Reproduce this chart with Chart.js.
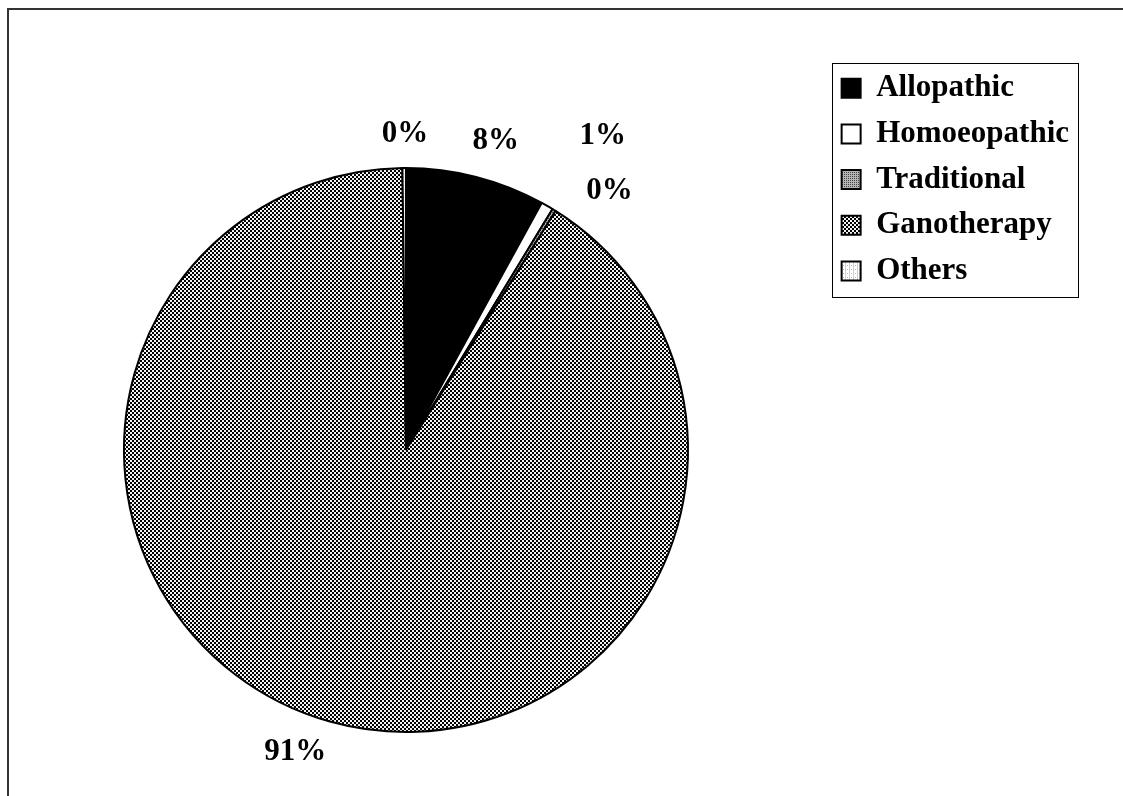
<!DOCTYPE html>
<html lang="en">
<head>
	<meta charset="UTF-8">
	<title>Treatment</title>
	<script src="https://cdn.jsdelivr.net/npm/chart.js@4.4.0/dist/chart.umd.min.js"></script>
	<style>
		html, body { margin: 0; padding: 0; background: #fff; }
		#box { width: 1123px; height: 796px; }
	</style>
</head>
<body>
	<div id="box"><canvas id="pie"></canvas></div>

	<script>
		// data
		const categories = ['Allopathic', 'Homoeopathic', 'Traditional', 'Ganotherapy', 'Others'];
		const shares = [8.0, 0.7, 0.2, 90.9, 0.2];

		const serif = "'Times New Roman', 'Liberation Serif', serif";

		function pattern(size, cells) {
			const c = document.createElement('canvas');
			c.width = size; c.height = size;
			const g = c.getContext('2d');
			cells.forEach(([x, y, w, h, col]) => { g.fillStyle = col; g.fillRect(x, y, w, h); });
			return g.createPattern(c, 'repeat');
		}

		const ctx = document.querySelector('#pie').getContext('2d');

		const fills = [
			'#000000',
			'#ffffff',
			pattern(2, [[0, 0, 2, 2, '#b5b5b5'], [0, 0, 1, 1, '#444444']]),
			pattern(4, [[0, 0, 4, 4, '#f4f4f4'], [0, 0, 2, 2, '#000000'], [2, 2, 2, 2, '#000000']]),
			pattern(4, [[0, 0, 4, 4, '#ffffff'], [1, 0, 1, 4, '#cfcfcf'], [3, 1, 1, 1, '#bbbbbb']])
		];

		// frame round the whole picture
		const frame = {
			id: 'frame',
			beforeDraw(chart) {
				const c = chart.ctx;
				c.save();
				c.fillStyle = '#fff';
				c.fillRect(0, 0, chart.width, chart.height);
				c.fillStyle = '#333';
				c.fillRect(7, 8, chart.width, 2);
				c.fillRect(7, 8, 2, chart.height);
				c.restore();
			}
		};

		// border round the legend
		const legendBorder = {
			id: 'legendBorder',
			afterDraw(chart) {
				const lg = chart.legend;
				const hb = lg.legendHitBoxes;
				if (!hb || !hb.length) return;
				const top = hb[0].top - 10;
				const bottom = hb[hb.length - 1].top + hb[hb.length - 1].height + 10;
				const right = Math.max(...hb.map(h => h.left + h.width)) + 9;
				const left = lg.left + 5;
				const c = chart.ctx;
				c.save();
				c.strokeStyle = '#000';
				c.lineWidth = 1;
				c.strokeRect(Math.round(left) + 0.5, Math.round(top) + 0.5, Math.round(right - left), Math.round(bottom - top));
				c.restore();
			}
		};

		// percentage labels outside the slices
		const outsideLabels = {
			id: 'outsideLabels',
			afterDatasetsDraw(chart, args, opts) {
				const meta = chart.getDatasetMeta(0);
				const data = chart.data.datasets[0].data;
				const total = data.reduce((a, b) => a + b, 0);
				const c = chart.ctx;
				c.save();
				c.font = 'bold 31px ' + serif;
				c.fillStyle = '#000';
				c.textAlign = 'center';
				c.textBaseline = 'middle';
				meta.data.forEach((arc, i) => {
					const p = arc.getProps(['x', 'y', 'startAngle', 'endAngle', 'outerRadius'], true);
					const mid = (p.startAngle + p.endAngle) / 2;
					const r = p.outerRadius + opts.distance;
					const nudge = opts.nudge[i] || [0, 0];
					const x = p.x + Math.cos(mid) * r + nudge[0];
					const y = p.y + Math.sin(mid) * r + nudge[1];
					c.fillText(Math.round(data[i] / total * 100) + '%', x, y);
				});
				c.restore();
			}
		};

		new Chart(ctx, {
			type: 'pie',
			data: {
				labels: categories,
				datasets: [{
					data: shares,
					backgroundColor: fills,
					borderColor: '#000',
					borderWidth: 2
				}]
			},
			options: {
				responsive: true,
				maintainAspectRatio: false,
				animation: false,
				layout: { padding: { top: 58, bottom: 63, left: 0, right: 44 } },
				plugins: {
					// empty title and subtitle only hold space so the pie sits where it does
					title: {
						display: true,
						text: '',
						fullSize: false,
						padding: 0,
						font: { size: 109, lineHeight: 1 }
					},
					subtitle: {
						display: true,
						text: '',
						position: 'right',
						fullSize: false,
						weight: 500,
						padding: 0,
						font: { size: 15, lineHeight: 1 }
					},
					legend: {
						position: 'right',
						align: 'start',
						labels: {
							boxWidth: 19,
							boxHeight: 19,
							padding: 14.7,
							color: '#000',
							font: { family: serif, size: 31, weight: 'bold' }
						}
					},
					tooltip: { enabled: false },
					outsideLabels: {
						distance: 39,
						nudge: [[10, 2], [36, -36], [35, 14], [-24, -7], [1, 5]]
					}
				}
			},
			plugins: [frame, outsideLabels, legendBorder]
		});
	</script>
</body>
</html>
